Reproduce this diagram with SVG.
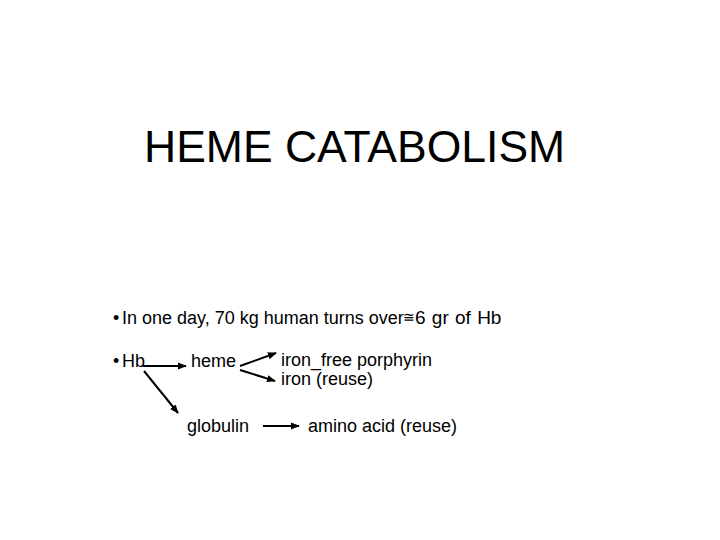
<svg xmlns="http://www.w3.org/2000/svg" width="720" height="540" viewBox="0 0 720 540">
<defs>
<style>
text{font-family:"Liberation Sans",Arial,sans-serif;fill:#000}
.t{font-size:44.5px}
.b{font-size:18px}
.s{font-size:14px}
.w{font-size:19px;word-spacing:1px}
.c line{stroke:#000;stroke-width:2;marker-end:url(#ah)}
</style>
<marker id="ah" viewBox="0 0 10 10" refX="9" refY="5" markerWidth="4.5" markerHeight="4.5" orient="auto" markerUnits="strokeWidth">
<path d="M0,1 L10,5 L0,9 z" fill="#000"/>
</marker>
</defs>
<rect width="720" height="540" fill="#fff"/>
<g id="title"><text class="t" x="144" y="162">HEME CATABOLISM</text></g>
<g id="line1"><text class="b" y="324"><tspan x="113">•</tspan><tspan x="122">In one day, 70 kg human turns over</tspan><tspan class="s" x="403" y="322">≅</tspan><tspan class="w" x="415" y="324">6 gr of Hb</tspan></text></g>
<g id="hb"><text class="b" y="367"><tspan x="113">•</tspan><tspan x="122">Hb</tspan></text></g>
<g id="heme"><text class="b" x="191" y="367">heme</text></g>
<g id="porphyrin"><text class="b" x="281" y="366">iron_free porphyrin</text></g>
<g id="iron"><text class="b" x="281" y="385">iron (reuse)</text></g>
<g id="globulin"><text class="b" x="187" y="432">globulin</text></g>
<g id="amino"><text class="b" x="308" y="432">amino acid (reuse)</text></g>
<g id="connectors" class="c">
<line x1="143" y1="366" x2="186" y2="366"/>
<line x1="144" y1="371" x2="178" y2="413"/>
<line x1="240" y1="366" x2="276" y2="353"/>
<line x1="240" y1="370" x2="275" y2="381"/>
<line x1="263" y1="426" x2="299" y2="426"/>
</g>
</svg>
